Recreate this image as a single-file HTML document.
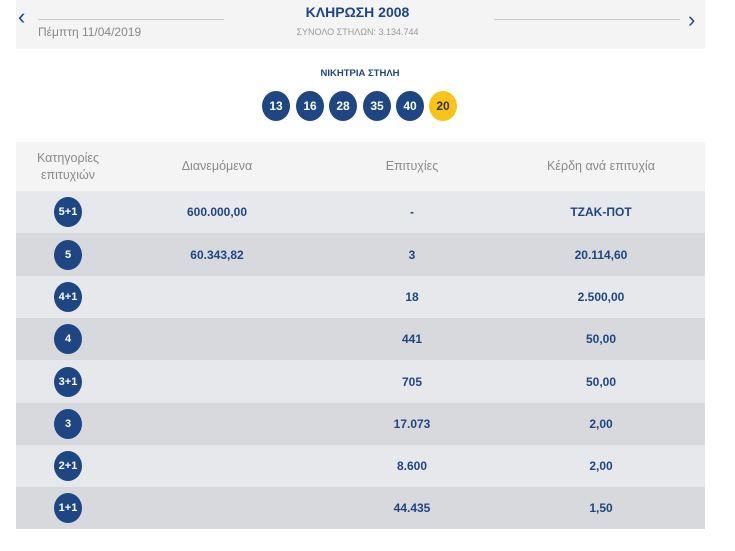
<!DOCTYPE html>
<html><head><meta charset="utf-8"><style>
body{margin:0;width:735px;height:551px;background:#fff;font-family:"Liberation Sans",sans-serif;position:relative;overflow:hidden}
.a{position:absolute}
.hdr{left:16px;top:0;width:689px;height:49px;background:#f4f4f4}
.navy{color:#1d4683}
.ball{position:absolute;width:28px;height:30px;border-radius:50%;background:#1d4683;color:#fff;font-weight:bold;font-size:12px;text-align:center;line-height:30px;top:91px}
.row{position:absolute;left:16px;width:689px}
.cell{position:absolute;top:0;height:100%;display:flex;align-items:center;justify-content:center;font-weight:bold;font-size:12px;color:#1d4683}
.cat{width:28px;height:30px;border-radius:50%;background:#1d4683;color:#fff;font-size:11px;font-weight:bold;display:flex;align-items:center;justify-content:center}
.th{position:absolute;top:142px;height:49px;display:flex;align-items:center;justify-content:center;text-align:center;color:#8a8a8a;font-size:12.5px;line-height:17px}
</style></head><body>
<div class="a hdr"></div>
<div class="a" style="left:18px;top:4px;font-size:22px;color:#1d4683">‹</div>
<div class="a" style="left:688px;top:7px;font-size:22px;color:#1d4683">›</div>
<div class="a" style="left:38px;top:19px;width:186px;border-top:1px solid #ccc"></div>
<div class="a" style="left:494px;top:19px;width:186px;border-top:1px solid #ccc"></div>
<div class="a" style="left:38px;top:25px;font-size:12px;color:#888">Πέμπτη 11/04/2019</div>
<div class="a navy" style="left:0;width:715px;top:4px;text-align:center;font-weight:bold;font-size:14px">ΚΛΗΡΩΣΗ 2008</div>
<div class="a" style="left:0;width:715px;top:27px;text-align:center;font-size:9px;color:#999">ΣΥΝΟΛΟ ΣΤΗΛΩΝ: 3.134.744</div>
<div class="a navy" style="left:0;width:720px;top:68px;text-align:center;font-weight:bold;font-size:9.5px">ΝΙΚΗΤΡΙΑ ΣΤΗΛΗ</div>
<div class="ball" style="left:262px">13</div>
<div class="ball" style="left:296px">16</div>
<div class="ball" style="left:329px">28</div>
<div class="ball" style="left:363px">35</div>
<div class="ball" style="left:396px">40</div>
<div class="ball" style="left:429px;background:#f9c31a;color:#333">20</div>
<div class="a" style="left:16px;top:142px;width:689px;height:49px;background:#f4f4f4"></div>
<div class="th" style="left:16px;width:104px">Κατηγορίες<br>επιτυχιών</div>
<div class="th" style="left:137px;width:160px">Διανεμόμενα</div>
<div class="th" style="left:332px;width:160px">Επιτυχίες</div>
<div class="th" style="left:521px;width:160px">Κέρδη ανά επιτυχία</div>
<div id="rows"></div>
<script>
const cats=["5+1","5","4+1","4","3+1","3","2+1","1+1"];
const distributed=["600.000,00","60.343,82","","","","","",""];
const winners=["-","3","18","441","705","17.073","8.600","44.435"];
const prizes=["ΤΖΑΚ-ΠΟΤ","20.114,60","2.500,00","50,00","50,00","2,00","2,00","1,50"];
const root=document.getElementById('rows');
cats.forEach((c,i)=>{
 const r=document.createElement('div');r.className='row';
 
 
 const t=Math.round(191+i*42.3), b=Math.round(191+(i+1)*42.3);
 r.style.top=t+'px';r.style.height=(b-t)+'px';r.style.background=i%2?'#d8d9dc':'#e7e8eb';
 r.innerHTML='<div class="cell" style="left:32px;width:40px"><div class="cat">'+c+'</div></div>'+
 '<div class="cell" style="left:121px;width:160px">'+distributed[i]+'</div>'+
 '<div class="cell" style="left:316px;width:160px">'+winners[i]+'</div>'+
 '<div class="cell" style="left:505px;width:160px">'+prizes[i]+'</div>';
 root.appendChild(r);
});
</script>
</body></html>
